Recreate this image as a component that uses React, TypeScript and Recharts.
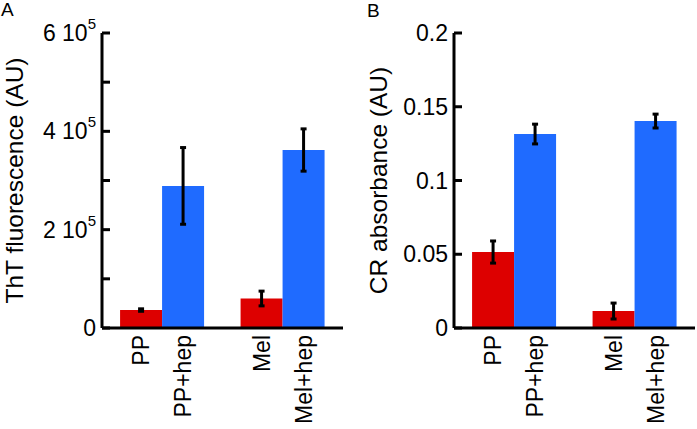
import React from 'react';
import { BarChart, Bar, XAxis, YAxis, ErrorBar, Label } from 'recharts';

const GROUPS = ['PP', 'Mel'];
const LABELS_ALONE = ['PP', 'Mel'];
const LABELS_HEP = ['PP+hep', 'Mel+hep'];

// Panel A: ThT fluorescence
const THT_ALONE = [36500, 60000];
const THT_ALONE_ERR = [2500, 15000];
const THT_HEP = [289000, 362000];
const THT_HEP_ERR = [78000, 43000];
const THT_TICKS = [0, 100000, 200000, 300000, 400000, 500000, 600000];

// Panel B: CR absorbance
const CR_ALONE = [0.0515, 0.0115];
const CR_ALONE_ERR = [0.0075, 0.0054];
const CR_HEP = [0.1315, 0.1403];
const CR_HEP_ERR = [0.0067, 0.0047];
const CR_TICKS = [0, 0.05, 0.1, 0.15, 0.2];

const RED = '#dd0000';
const BLUE = '#1f6bff';
const FONT = '"Liberation Sans", Arial, sans-serif';

const buildRows = (alone: number[], aloneErr: number[], hep: number[], hepErr: number[]) =>
    GROUPS.map((g, i) => ({
        group: g,
        alone: alone[i],
        aloneErr: aloneErr[i],
        hep: hep[i],
        hepErr: hepErr[i],
        labelAlone: LABELS_ALONE[i],
        labelHep: LABELS_HEP[i],
    }));

const thtRows = buildRows(THT_ALONE, THT_ALONE_ERR, THT_HEP, THT_HEP_ERR);
const crRows = buildRows(CR_ALONE, CR_ALONE_ERR, CR_HEP, CR_HEP_ERR);

const makeXTick = (rows: any[]) => (props: any) => {
    const { x, y, index } = props;
    const row = rows[index];
    const items = [
        { dx: -21, text: row.labelAlone },
        { dx: 21, text: row.labelHep },
    ];
    return (
        <g>
            {items.map((it) => (
                <text
                    key={it.text}
                    transform={`translate(${x + it.dx},${y}) rotate(-90)`}
                    textAnchor="end"
                    dy="0.35em"
                    fontSize={23}
                    fontFamily={FONT}
                    fill="#000"
                >
                    {it.text}
                </text>
            ))}
        </g>
    );
};

// label to the left of the axis plus a short stub pointing into the plot
const makeYTick = (axisX: number, format: (v: number) => React.ReactNode) => (props: any) => {
    const { y, payload } = props;
    const v = payload.value as number;
    return (
        <g>
            <rect x={axisX} y={y - 1.5} width={8} height={3} fill="#000" />
            <text x={axisX - 6} y={y} dy="0.35em" textAnchor="end" fontSize={23} fontFamily={FONT} fill="#000">
                {format(v)}
            </text>
        </g>
    );
};

const thtFormat = (v: number) => {
    const n = v / 100000;
    if (n % 2 !== 0) return null;
    if (v === 0) return '0';
    return (
        <>
            {`${n} 10`}
            <tspan fontSize={15} dy="-0.8em">5</tspan>
        </>
    );
};

const crFormat = (v: number) => String(v);

const yTitle = (text: string, cx: number) => (props: any) => {
    const vb = props.viewBox || {};
    const cy = (vb.y || 0) + (vb.height || 0) / 2;
    return (
        <text
            transform={`translate(${cx},${cy}) rotate(-90)`}
            textAnchor="middle"
            dy="0.35em"
            fontSize={24.5}
            fontFamily={FONT}
            fill="#000"
        >
            {text}
        </text>
    );
};

const Panel: React.FC<{
    rows: any[];
    ticks: number[];
    domain: [number, number];
    yWidth: number;
    right: number;
    width: number;
    format: (v: number) => React.ReactNode;
    title: string;
    titleX: number;
}> = ({ rows, ticks, domain, yWidth, right, width, format, title, titleX }) => (
    <BarChart
        width={width}
        height={429}
        data={rows}
        margin={{ top: 33, right, bottom: 0, left: 0 }}
        barGap={0}
        barCategoryGap="15%"
    >
        <XAxis
            dataKey="group"
            axisLine={{ stroke: '#000', strokeWidth: 3 }}
            tickLine={false}
            tickSize={0}
            tickMargin={7}
            tick={makeXTick(rows)}
            height={101}
            interval={0}
        />
        <YAxis
            type="number"
            domain={domain}
            ticks={ticks}
            interval={0}
            width={yWidth}
            axisLine={{ stroke: '#000', strokeWidth: 3 }}
            tickLine={false}
            tick={makeYTick(yWidth, format)}
        >
            <Label content={yTitle(title, titleX)} />
        </YAxis>
        <Bar dataKey="alone" fill={RED} isAnimationActive={false}>
            <ErrorBar dataKey="aloneErr" width={3} strokeWidth={3} stroke="#000" isAnimationActive={false} />
        </Bar>
        <Bar dataKey="hep" fill={BLUE} isAnimationActive={false}>
            <ErrorBar dataKey="hepErr" width={3} strokeWidth={3} stroke="#000" isAnimationActive={false} />
        </Bar>
    </BarChart>
);

export default function App() {
    return (
        <div style={{ position: 'absolute', left: 0, top: 0, width: 697, height: 429, background: '#fff' }}>
            <div style={{ position: 'absolute', left: 0, top: 0 }}>
                <Panel
                    rows={thtRows}
                    ticks={THT_TICKS}
                    domain={[0, 600000]}
                    yWidth={102}
                    right={7}
                    width={350}
                    format={thtFormat}
                    title="ThT fluorescence (AU)"
                    titleX={14}
                />
            </div>
            <div style={{ position: 'absolute', left: 350, top: 0 }}>
                <Panel
                    rows={crRows}
                    ticks={CR_TICKS}
                    domain={[0, 0.2]}
                    yWidth={104}
                    right={2}
                    width={347}
                    format={crFormat}
                    title="CR absorbance (AU)"
                    titleX={28}
                />
            </div>
            <div style={{ position: 'absolute', left: 1, top: 0, fontSize: 19, lineHeight: '19px', fontFamily: FONT }}>A</div>
            <div style={{ position: 'absolute', left: 367, top: 1, fontSize: 19, lineHeight: '19px', fontFamily: FONT }}>B</div>
        </div>
    );
}
